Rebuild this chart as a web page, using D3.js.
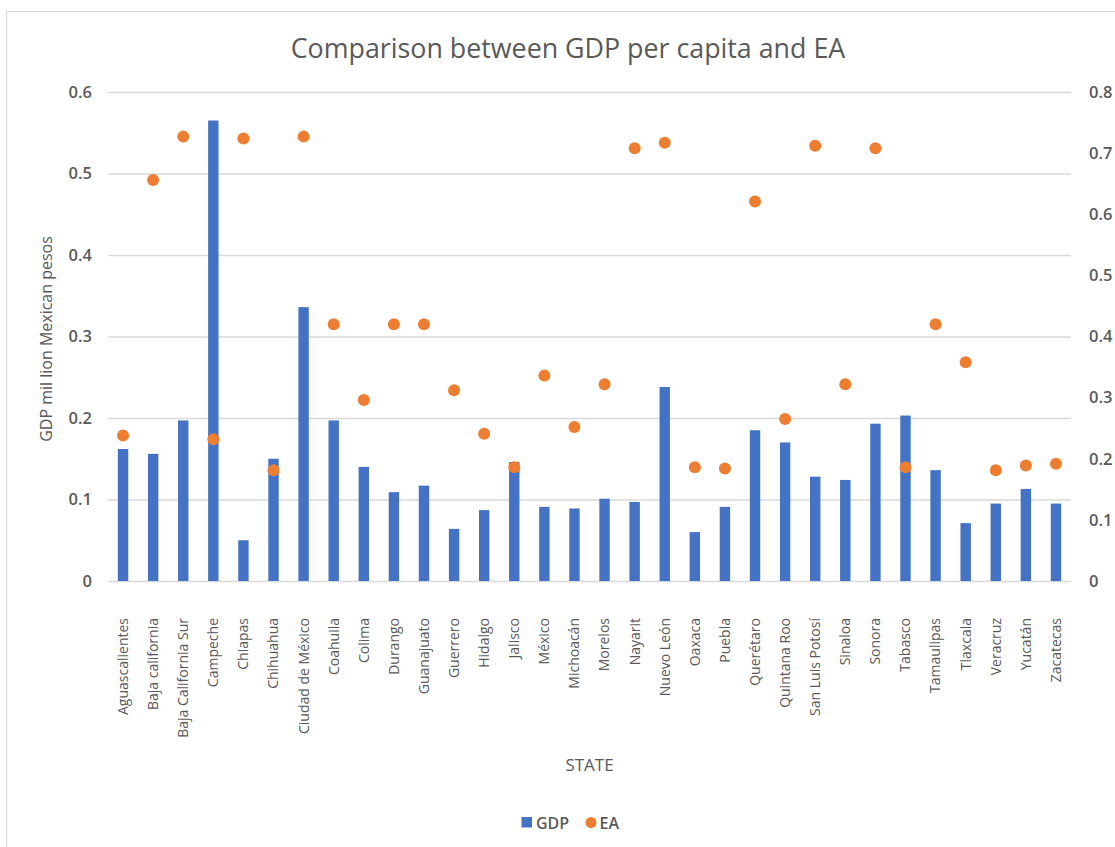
<!DOCTYPE html>
<html>
<head>
<meta charset="utf-8">
<script src="https://cdn.jsdelivr.net/npm/d3@7"></script>
<style>
  html, body { margin: 0; padding: 0; background: #fff; }
  svg { display: block; }
  text { font-family: "Open Sans", "Noto Sans", sans-serif; fill: #595959; }
</style>
</head>
<body>
<svg id="chart" width="1115" height="847"></svg>
<script>
const states = ["Aguascalientes","Baja california","Baja California Sur","Campeche","Chiapas","Chihuahua","Ciudad de México","Coahuila","Colima","Durango","Guanajuato","Guerrero","Hidalgo","Jalisco","México","Michoacán","Morelos","Nayarit","Nuevo León","Oaxaca","Puebla","Querétaro","Quintana Roo","San Luis Potosí","Sinaloa","Sonora","Tabasco","Tamaulipas","Tlaxcala","Veracruz","Yucatán","Zacatecas"];
const gdp = [0.162,0.156,0.197,0.565,0.050,0.150,0.336,0.197,0.140,0.109,0.117,0.064,0.087,0.146,0.091,0.089,0.101,0.097,0.238,0.060,0.091,0.185,0.170,0.128,0.124,0.193,0.203,0.136,0.071,0.095,0.113,0.095];
const ea = [0.238,0.656,0.727,0.232,0.724,0.181,0.727,0.420,0.296,0.420,0.420,0.312,0.241,0.186,0.336,0.252,0.322,0.708,0.717,0.186,0.184,0.621,0.265,0.712,0.322,0.708,0.186,0.420,0.358,0.181,0.189,0.192];
const leftTicks = [0,0.1,0.2,0.3,0.4,0.5,0.6];
const rightTicks = [0,0.1,0.2,0.3,0.4,0.5,0.6,0.7,0.8];

const svg = d3.select("#chart");
const pL = 108, pR = 1071, pT = 92, pB = 581;

// chart border
svg.append("rect").attr("x", 6.5).attr("y", 11.5).attr("width", 1130).attr("height", 850)
  .attr("fill", "none").attr("stroke", "#d9d9d9").attr("stroke-width", 1);

const x = d3.scaleBand().domain(states).range([pL, pR]).padding(0);
const yL = d3.scaleLinear().domain([0, 0.6]).range([pB, pT]);
const yR = d3.scaleLinear().domain([0, 0.8]).range([pB, pT]);

// gridlines
const grid = svg.append("g").attr("transform", `translate(${pL},0)`)
  .call(d3.axisLeft(yL).tickValues(leftTicks).tickSize(-(pR - pL)).tickFormat(""));
grid.select(".domain").remove();
grid.selectAll(".tick line").attr("stroke", "#d9d9d9").attr("stroke-width", 1.3);

// left axis labels
const la = svg.append("g").attr("transform", `translate(${pL},0)`)
  .call(d3.axisLeft(yL).tickValues(leftTicks).tickSize(0).tickPadding(16).tickFormat(d => d === 0 ? "0" : d3.format(".1f")(d)));
la.select(".domain").remove();
la.selectAll("text").attr("font-size", 16.5).attr("font-weight", 600).attr("fill", "#595959");

// right axis labels
const ra = svg.append("g").attr("transform", `translate(${pR},0)`)
  .call(d3.axisRight(yR).tickValues(rightTicks).tickSize(0).tickPadding(18).tickFormat(d => d === 0 ? "0" : d3.format(".1f")(d)));
ra.select(".domain").remove();
ra.selectAll("text").attr("font-size", 16.5).attr("font-weight", 600).attr("fill", "#595959");

// x axis labels
const xa = svg.append("g").attr("transform", `translate(0,${pB})`)
  .call(d3.axisBottom(x).tickSize(0).tickPadding(0));
xa.select(".domain").remove();
xa.selectAll("text")
  .attr("font-size", 14)
  .attr("text-anchor", "end")
  .attr("dy", "0.35em")
  .attr("transform", "translate(0,37) rotate(-90)")
  .attr("x", 0).attr("y", 0)
  .attr("fill", "#4a4a4a");

// bars
const bw = 10.4;
svg.append("g").selectAll("rect").data(states).join("rect")
  .attr("x", (d) => x(d) + x.bandwidth() / 2 - bw / 2)
  .attr("y", (d, i) => yL(gdp[i]))
  .attr("width", bw)
  .attr("height", (d, i) => pB - yL(gdp[i]))
  .attr("fill", "#4472C4");

// dots
svg.append("g").selectAll("circle").data(states).join("circle")
  .attr("cx", (d) => x(d) + x.bandwidth() / 2)
  .attr("cy", (d, i) => yR(ea[i]))
  .attr("r", 6)
  .attr("fill", "#ED7D31");

// title
svg.append("text").attr("x", 568).attr("y", 58).attr("text-anchor", "middle")
  .attr("font-size", 26.8).attr("fill", "#595959").text("Comparison between GDP per capita and EA");

// y axis title
svg.append("text").attr("transform", `translate(52,339) rotate(-90)`).attr("text-anchor", "middle")
  .attr("font-size", 16).attr("fill", "#404040").text("GDP mil lion Mexican pesos");

// x axis title
svg.append("text").attr("x", (pL + pR) / 2).attr("y", 771).attr("text-anchor", "middle")
  .attr("font-size", 17).attr("fill", "#595959").text("STATE");

// legend
const lg = svg.append("g");
lg.append("rect").attr("x", 521.5).attr("y", 817).attr("width", 10.5).attr("height", 10.5).attr("fill", "#4472C4");
lg.append("text").attr("x", 536).attr("y", 828.5).attr("font-size", 16).attr("font-weight", 600).attr("fill", "#595959").text("GDP");
lg.append("circle").attr("cx", 591).attr("cy", 822.5).attr("r", 5.5).attr("fill", "#ED7D31");
lg.append("text").attr("x", 599.5).attr("y", 828.5).attr("font-size", 16).attr("font-weight", 600).attr("fill", "#595959").text("EA");
</script>
</body>
</html>
